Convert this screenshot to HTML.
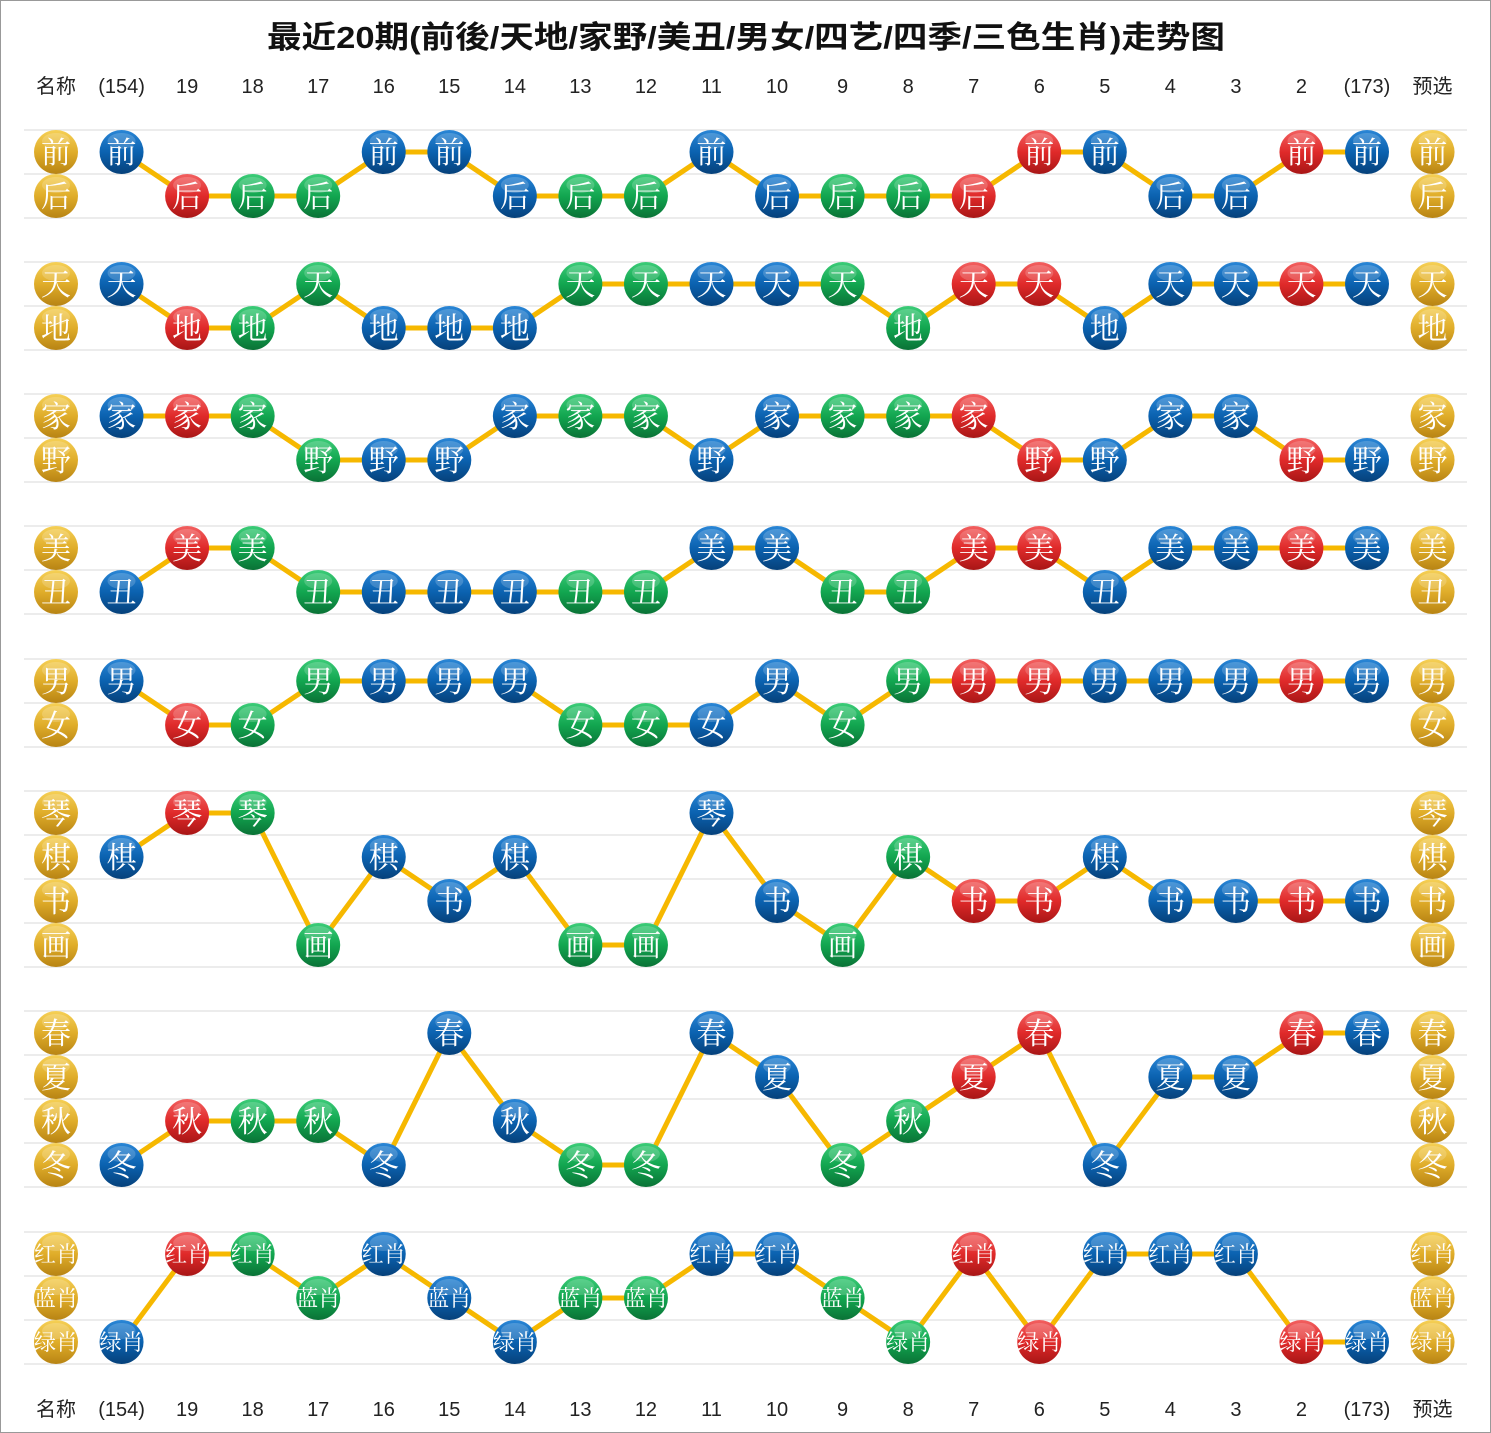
<!DOCTYPE html>
<html><head><meta charset="utf-8">
<style>
html,body{margin:0;padding:0;background:#fff;}
svg{display:block;}
</style></head><body>
<svg id="s" width="1491" height="1433" xmlns="http://www.w3.org/2000/svg">
<defs>
<linearGradient id="gB" x1="0" y1="0" x2="0" y2="1"><stop offset="0" stop-color="#2a86d6"/><stop offset="0.5" stop-color="#0b62b0"/><stop offset="1" stop-color="#06417a"/></linearGradient>
<linearGradient id="gR" x1="0" y1="0" x2="0" y2="1"><stop offset="0" stop-color="#f26060"/><stop offset="0.5" stop-color="#e02a2a"/><stop offset="1" stop-color="#a81616"/></linearGradient>
<linearGradient id="gG" x1="0" y1="0" x2="0" y2="1"><stop offset="0" stop-color="#3ccc78"/><stop offset="0.5" stop-color="#12a650"/><stop offset="1" stop-color="#0a7236"/></linearGradient>
<linearGradient id="gY" x1="0" y1="0" x2="0" y2="1"><stop offset="0" stop-color="#f6d056"/><stop offset="0.5" stop-color="#e0ad2a"/><stop offset="1" stop-color="#b88414"/></linearGradient>
</defs>
<rect x="0.5" y="0.5" width="1490" height="1432" fill="#fff" stroke="#999"/>
<text x="746" y="48" text-anchor="middle" textLength="958" lengthAdjust="spacingAndGlyphs" font-family="'Liberation Sans','Noto Sans CJK SC',sans-serif" font-weight="bold" font-size="31" fill="#111">最近20期(前後/天地/家野/美丑/男女/四艺/四季/三色生肖)走势图</text>
<g id="g"></g>
</svg>
<script>
const NS="http://www.w3.org/2000/svg";
const g=document.getElementById('g');
function el(t,a,txt){const e=document.createElementNS(NS,t);for(const k in a)e.setAttribute(k,a[k]);if(txt!=null)e.textContent=txt;g.appendChild(e);return e;}
const X0=56,DX=65.55;
const hdr=["名称","(154)","19","18","17","16","15","14","13","12","11","10","9","8","7","6","5","4","3","2","(173)","预选"];
for(const y of [93,1416]) hdr.forEach((h,i)=>el('text',{x:X0+i*DX,y:y,'text-anchor':'middle','font-family':"'Liberation Sans','Noto Sans CJK SC',sans-serif",'font-size':20,fill:'#222'},h));
const groups=[
 {y:152,labels:["前","后"],d:"0B 1R 1G 1G 0B 0B 1B 1G 1G 0B 1B 1G 1G 1R 0R 0B 1B 1B 0R 0B"},
 {y:284,labels:["天","地"],d:"0B 1R 1G 0G 1B 1B 1B 0G 0G 0B 0B 0G 1G 0R 0R 1B 0B 0B 0R 0B"},
 {y:416,labels:["家","野"],d:"0B 0R 0G 1G 1B 1B 0B 0G 0G 1B 0B 0G 0G 0R 1R 1B 0B 0B 1R 1B"},
 {y:548,labels:["美","丑"],d:"1B 0R 0G 1G 1B 1B 1B 1G 1G 0B 0B 1G 1G 0R 0R 1B 0B 0B 0R 0B"},
 {y:681,labels:["男","女"],d:"0B 1R 1G 0G 0B 0B 0B 1G 1G 1B 0B 1G 0G 0R 0R 0B 0B 0B 0R 0B"},
 {y:813,labels:["琴","棋","书","画"],d:"1B 0R 0G 3G 1B 2B 1B 3G 3G 0B 2B 3G 1G 2R 2R 1B 2B 2B 2R 2B"},
 {y:1033,labels:["春","夏","秋","冬"],d:"3B 2R 2G 2G 3B 0B 2B 3G 3G 0B 1B 3G 2G 1R 0R 3B 1B 1B 0R 0B"},
 {y:1254,labels:["红肖","蓝肖","绿肖"],d:"2B 0R 0G 1G 0B 1B 2B 1G 1G 0B 0B 1G 2G 0R 2R 0B 0B 0B 2R 2B"}
];
const STEP=44,R=22;
function ball(x,y,c,t){
 el('circle',{cx:x,cy:y,r:R,fill:'url(#g'+c+')'});
 el('ellipse',{cx:x,cy:y-11,rx:14,ry:8,fill:'#fff','fill-opacity':0.18});
 const two=t.length>1;
 const a={x:x,y:y+(two?8:11),'text-anchor':'middle','font-family':"'Noto Serif CJK SC','Liberation Serif',serif",'font-size':two?22:30,fill:'#fff'};
 if(two){a.textLength=44;a.lengthAdjust='spacingAndGlyphs';}
 el('text',a,t);
}
groups.forEach(gr=>{
 const n=gr.labels.length;
 for(let k=0;k<=n;k++){const y=gr.y-STEP/2+k*STEP;el('line',{x1:24,x2:1467,y1:y,y2:y,stroke:'#e6e6e6','stroke-width':1.5});}
 const d=gr.d.split(' ');
 const pts=d.map((v,i)=>[X0+(i+1)*DX,gr.y+parseInt(v[0])*STEP]);
 el('polyline',{points:pts.map(p=>p.join(',')).join(' '),fill:'none',stroke:'#f6b800','stroke-width':5,'stroke-linejoin':'round'});
 gr.labels.forEach((l,k)=>{ball(X0,gr.y+k*STEP,'Y',l);ball(X0+21*DX,gr.y+k*STEP,'Y',l);});
 d.forEach((v,i)=>ball(pts[i][0],pts[i][1],v[1],gr.labels[parseInt(v[0])]));
});
</script>
</body></html>
